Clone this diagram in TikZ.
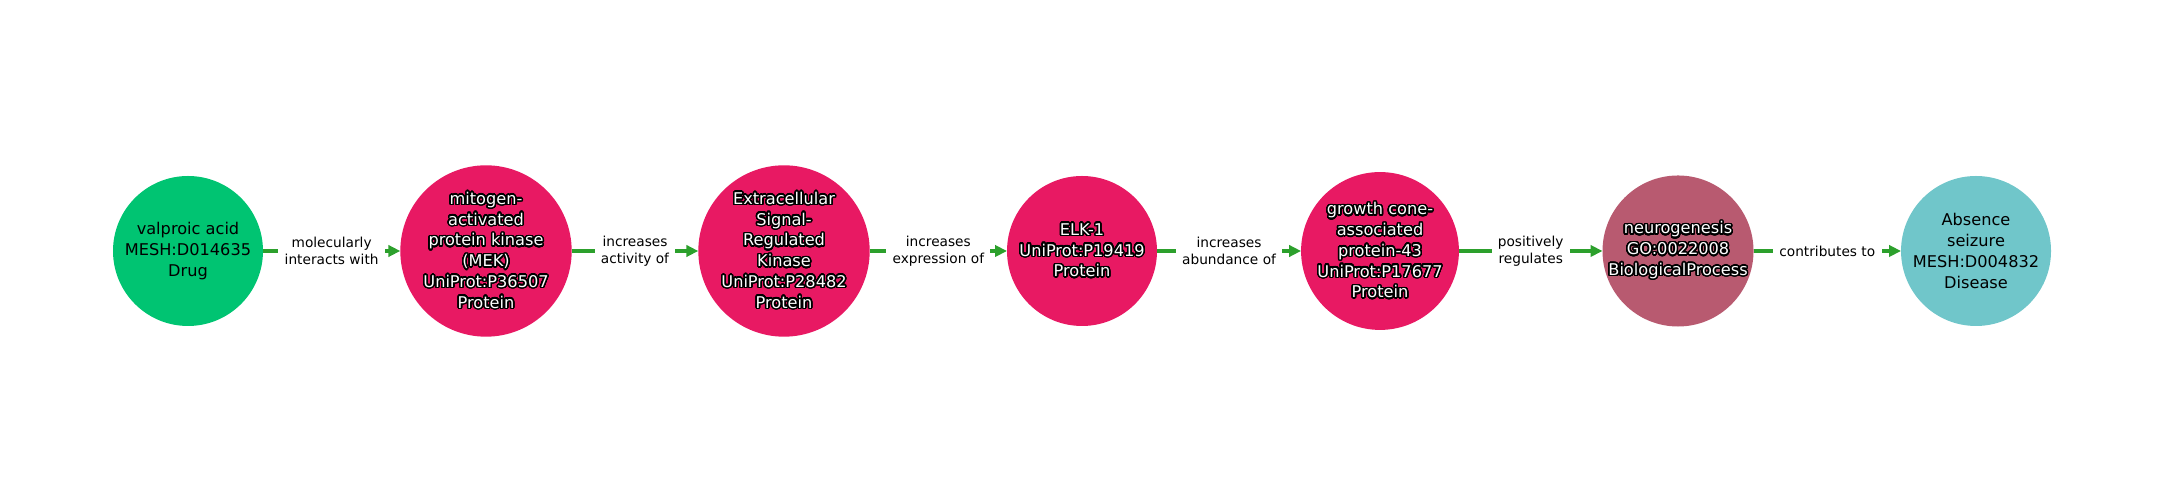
\documentclass[tikz,border=0pt]{standalone}
\usepackage{fontspec}
\setmainfont{DejaVu Sans}
\usepackage{contour}
\usetikzlibrary{arrows.meta}
\definecolor{drugc}{RGB}{0,196,114}
\definecolor{protc}{RGB}{232,25,99}
\definecolor{bioc}{RGB}{184,90,112}
\definecolor{disc}{RGB}{112,198,202}
\definecolor{edgec}{RGB}{44,160,44}
\contourlength{0.42pt}
\contournumber{32}
\newcommand{\outl}[1]{\contour{black}{#1}}
\begin{document}
\begin{tikzpicture}[
		ent/.style={circle,minimum size=1.5cm,inner sep=0pt,outer sep=0pt,align=center,font=\fontsize{4.6}{5.9}\selectfont},
		drug/.style={ent,fill=drugc,text=black},
		prot/.style={ent,fill=protc,text=white},
		bio/.style={ent,fill=bioc,text=white},
		dis/.style={ent,fill=disc,text=black},
		rel/.style={draw=edgec,line width=1.1pt,-{Triangle[length=3.4pt,width=3.2pt]}},
		rlab/.style={fill=white,inner sep=1.8pt,align=center,text=black,font=\fontsize{3.9}{4.7}\selectfont}
	]
				\useasboundingbox (0,0) rectangle (21.6,5);
				\node[drug] (vpa) at (1.88,2.49) {valproic acid\\MESH:D014635\\Drug};
				\node[prot] (mek) at (4.86,2.49) {\outl{mitogen-}\\\outl{activated}\\\outl{protein kinase}\\\outl{(MEK)}\\\outl{UniProt:P36507}\\\outl{Protein}};
				\node[prot] (erk) at (7.84,2.49) {\outl{Extracellular}\\\outl{Signal-}\\\outl{Regulated}\\\outl{Kinase}\\\outl{UniProt:P28482}\\\outl{Protein}};
				\node[prot] (elk) at (10.82,2.49) {\outl{ELK-1}\\\outl{UniProt:P19419}\\\outl{Protein}};
				\node[prot] (gap) at (13.80,2.49) {\outl{growth cone-}\\\outl{associated}\\\outl{protein-43}\\\outl{UniProt:P17677}\\\outl{Protein}};
				\node[bio] (neuro) at (16.78,2.49) {\outl{neurogenesis}\\\outl{GO:0022008}\\\outl{BiologicalProcess}};
				\node[dis] (abs) at (19.76,2.49) {Absence\\seizure\\MESH:D004832\\Disease};
				\draw[rel] (vpa) -- node[rlab] {molecularly\\interacts with} (mek);
				\draw[rel] (mek) -- node[rlab] {increases\\activity of} (erk);
				\draw[rel] (erk) -- node[rlab] {increases\\expression of} (elk);
				\draw[rel] (elk) -- node[rlab] {increases\\abundance of} (gap);
				\draw[rel] (gap) -- node[rlab] {positively\\regulates} (neuro);
				\draw[rel] (neuro) -- node[rlab] {contributes to} (abs);
			\end{tikzpicture}
\end{document}
